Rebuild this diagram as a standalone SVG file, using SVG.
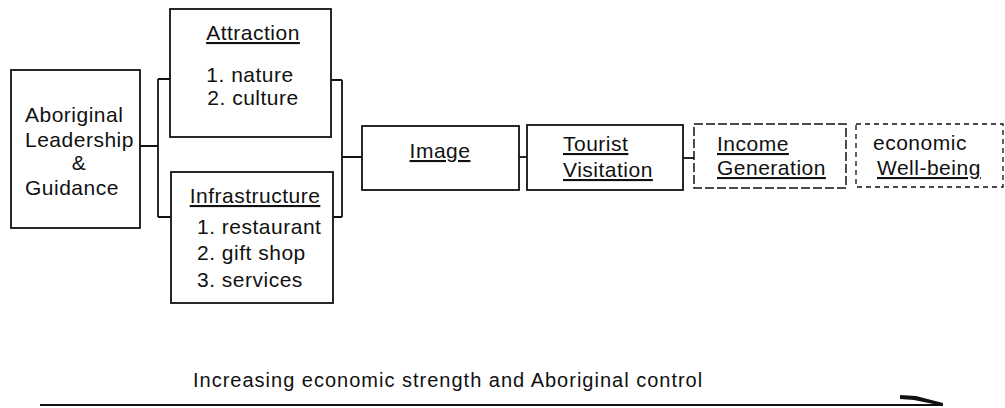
<svg xmlns="http://www.w3.org/2000/svg" width="1005" height="408" viewBox="0 0 1005 408">
  <style>
    .box { fill: none; stroke: #111; stroke-width: 1.8; }
    .dash { stroke-dasharray: 9 3; stroke-width: 1.5; }
    .dot { stroke-dasharray: 5 4; stroke-width: 1.3; }
    .t { font-family: "Liberation Sans", Arial, sans-serif; font-size: 21px; letter-spacing: 0.5px; fill: #111; }
    .u { text-decoration: underline; }
    .c { text-anchor: middle; }
    .conn { fill: none; stroke: #111; stroke-width: 1.8; }
  </style>
  <rect width="1005" height="408" fill="#fff"/>

  <g id="connectors">
    <path class="conn" d="M140 146 H158 M158 79 V217 M158 79 H170 M158 217 H171"/>
    <path class="conn" d="M331 80 H342 M333 217 H342 M342 80 V217 M342 157 H362"/>
    <path class="conn" d="M519 157 H527"/>
    <path class="conn" d="M683 158 H694"/>
  </g>

  <g id="leadership">
    <rect class="box" x="11" y="70" width="129" height="158"/>
    <text class="t" x="25" y="122">Aboriginal</text>
    <text class="t" x="25" y="147">Leadership</text>
    <text class="t c" x="79" y="170">&amp;</text>
    <text class="t" x="25" y="195">Guidance</text>
  </g>

  <g id="attraction">
    <rect class="box" x="170" y="9" width="161" height="128"/>
    <text class="t c u" x="253" y="40">Attraction</text>
    <text class="t c" x="250" y="82">1. nature</text>
    <text class="t c" x="253" y="105">2. culture</text>
  </g>

  <g id="infrastructure">
    <rect class="box" x="171" y="172" width="162" height="131"/>
    <text class="t c u" x="255" y="203">Infrastructure</text>
    <text class="t" x="197" y="234">1. restaurant</text>
    <text class="t" x="197" y="260">2. gift shop</text>
    <text class="t" x="197" y="287">3. services</text>
  </g>

  <g id="image">
    <rect class="box" x="362" y="126" width="157" height="64"/>
    <text class="t c u" x="440" y="158">Image</text>
  </g>

  <g id="tourist">
    <rect class="box" x="527" y="125" width="156" height="65"/>
    <text class="t u" x="563" y="151">Tourist</text>
    <text class="t u" x="563" y="177">Visitation</text>
  </g>

  <g id="income">
    <rect class="box dash" x="694" y="124" width="152" height="64"/>
    <text class="t u" x="717" y="151">Income</text>
    <text class="t u" x="717" y="175">Generation</text>
  </g>

  <g id="wellbeing">
    <rect class="box dot" x="856" y="124" width="147" height="63"/>
    <text class="t" x="873" y="150">economic</text>
    <text class="t u" x="877" y="175">Well-being</text>
  </g>

  <g id="trend">
    <text class="t" x="193" y="387" style="font-size:20px;letter-spacing:1px">Increasing economic strength and Aboriginal control</text>
    <path class="conn" d="M40 405 H943" stroke-width="2.2"/>
    <path d="M900 395 L916 396 L943 403 L943 406 L914 400 L900 399 Z" fill="#111"/>
  </g>
</svg>
